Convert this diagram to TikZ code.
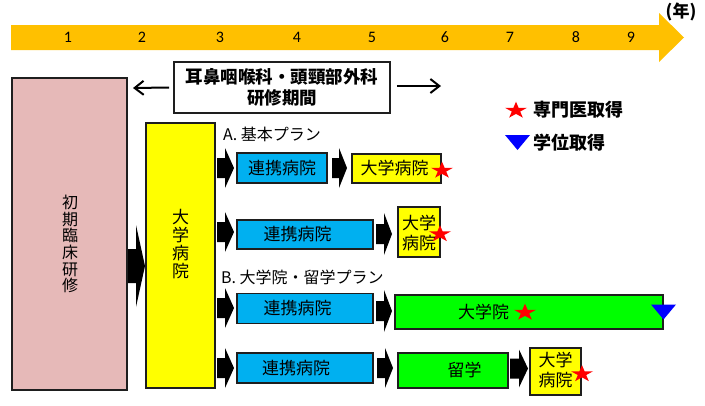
\documentclass[tikz,border=0pt]{standalone}
\usepackage{fontspec}
\setmainfont{Noto Sans CJK JP}
\newfontfamily\numfont{Carlito}
\usetikzlibrary{arrows.meta}
\definecolor{orangebar}{HTML}{FFC000}
\definecolor{pinkbox}{HTML}{E6B9B8}
\definecolor{ybox}{HTML}{FFFF00}
\definecolor{bbox}{HTML}{00B0F0}
\definecolor{gbox}{HTML}{00FF00}
\definecolor{edgecol}{HTML}{1E1E1E}
\newcommand\blockarr[6]{%
  \fill[black] (#1,{#4-#5}) -- (#2,{#4-#5}) -- (#2,{#4-#6}) -- (#3,#4) -- (#2,{#4+#6}) -- (#2,{#4+#5}) -- (#1,{#4+#5}) -- cycle;}
\tikzset{
  box/.style={draw=edgecol, line width=1.8pt, inner sep=0pt, align=center},
  txt/.style={font=\fontsize{17}{19}\selectfont, inner sep=0pt, align=center},
  num/.style={font=\numfont\fontsize{16}{18}\selectfont, inner sep=0pt},
  bold/.style={font=\bfseries\fontsize{17.5}{21}\selectfont, inner sep=0pt, align=center},
  plan/.style={font=\fontsize{16}{18}\selectfont, inner sep=0pt, anchor=west},
  thinarr/.style={line width=2pt, -{Straight Barb[length=9pt,width=14pt]}},
  pics/rstar/.style={code={\fill[red, xscale=11.6, yscale=8.8] (-90:1) -- (-54:.382) -- (-18:1) -- (18:.382) -- (54:1) -- (90:.382) -- (126:1) -- (162:.382) -- (198:1) -- (234:.382) -- cycle;}},
  pics/btri/.style={code={\fill[blue] (-12.5,-7.5) -- (12.5,-7.5) -- (0,7.5) -- cycle;}}
}
\begin{document}
\begin{tikzpicture}[x=1pt,y=-1pt]
\useasboundingbox (0,0) rectangle (705,405);
% timeline
\fill[orangebar] (11,25) -- (659,25) -- (659,13) -- (684,37.5) -- (659,62) -- (659,50) -- (11,50) -- cycle;
\foreach \n/\x in {1/68,2/142,3/220,4/297,5/372,6/445,7/510,8/576,9/631}
  \node[num] (t\n) at (\x,37.5) {\n};
\node[font=\bfseries\fontsize{17}{19}\selectfont, inner sep=0pt] (nen) at (681,12) {(年)};
% training period box
\node[box, fill=white, minimum width=216pt, minimum height=51pt] (period) at (282,87.5) {};
\node[bold] (periodtxt) at (282,87.5) {耳鼻咽喉科・頭頸部外科\\研修期間};
\coordinate (lend) at (133,88);
\coordinate (rend) at (441,86);
\draw[thinarr] ([xshift=-4pt]period.west) -- (lend);
\draw[thinarr] ([xshift=6pt,yshift=1.5pt]period.east) -- (rend);
% initial training
\node[box, fill=pinkbox, minimum width=115pt, minimum height=312pt] (init) at (69.5,234) {};
\node[font=\fontsize{16}{16.7}\selectfont, inner sep=0pt, align=center] (inittxt) at (70,244) {初\\期\\臨\\床\\研\\修};
\blockarr{128}{136}{145}{266}{17}{41}
% university hospital
\node[box, fill=ybox, minimum width=69pt, minimum height=265pt] (univ) at (180.5,255.5) {};
\node[font=\fontsize{17}{18}\selectfont, inner sep=0pt, align=center] (univtxt) at (180.5,244.5) {大\\学\\病\\院};
% plan labels
\node[plan] (planA) at (223,134) {A. 基本プラン};
\node[plan] (planB) at (221,277) {B. 大学院・留学プラン};
% row 1
\blockarr{217}{225}{234}{168}{10}{20}
\node[box, fill=bbox, minimum width=90pt, minimum height=30pt] (r1b) at (282,168) {};
\node[txt] (r1bt) at (282,168) {連携病院};
\blockarr{332}{339}{347}{168}{10}{20}
\node[box, fill=ybox, minimum width=89pt, minimum height=29pt] (r1y) at (396.5,168.5) {};
\node[txt] (r1yt) at (394.5,168.5) {大学病院};
\pic at (442,170.5) {rstar};
% row 2
\blockarr{217}{225}{234}{232}{10}{20}
\node[box, fill=bbox, minimum width=136pt, minimum height=29pt] (r2b) at (305,234.5) {};
\node[txt] (r2bt) at (297.5,234.5) {連携病院};
\blockarr{376}{384}{392}{234}{10}{21}
\node[box, fill=ybox, minimum width=42pt, minimum height=50pt] (r2y) at (419,232) {};
\node[txt, font=\fontsize{17}{20}\selectfont] (r2yt) at (419,233.5) {大学\\病院};
\pic at (440,234) {rstar};
% row 3
\blockarr{217}{225}{234}{308}{10}{20}
\node[box, fill=bbox, minimum width=136pt, minimum height=30pt] (r3b) at (305,308.5) {};
\node[txt] (r3bt) at (297.5,308.5) {連携病院};
\blockarr{376}{384}{392}{311}{10}{21}
\node[box, fill=gbox, minimum width=268pt, minimum height=34pt] (r3g) at (529,312) {};
\node[txt] (r3gt) at (483.5,312) {大学院};
\pic at (525,312.5) {rstar};
\pic at (663.5,312) {btri};
% row 4
\blockarr{217}{225}{234}{368}{10}{20}
\node[box, fill=bbox, minimum width=136pt, minimum height=30pt] (r4b) at (305,368) {};
\node[txt] (r4bt) at (296,368) {連携病院};
\blockarr{377}{385}{393}{368}{10}{20}
\node[box, fill=gbox, minimum width=110pt, minimum height=35pt] (r4g) at (453,370.5) {};
\node[txt] (r4gt) at (464.5,370.5) {留学};
\blockarr{510}{519}{528}{368.5}{10}{19}
\node[box, fill=ybox, minimum width=51pt, minimum height=47pt] (r4y) at (555.5,371.5) {};
\node[txt, font=\fontsize{17}{20}\selectfont] (r4yt) at (555.5,370) {大学\\病院};
\pic at (582,374) {rstar};
% legend
\pic at (516,110.5) {rstar};
\node[font=\bfseries\fontsize{18}{20}\selectfont, inner sep=0pt, anchor=west] (leg1) at (533,110) {専門医取得};
\pic at (517.5,142.5) {btri};
\node[font=\bfseries\fontsize{18}{20}\selectfont, inner sep=0pt, anchor=west] (leg2) at (533,143) {学位取得};
\end{tikzpicture}
\end{document}
